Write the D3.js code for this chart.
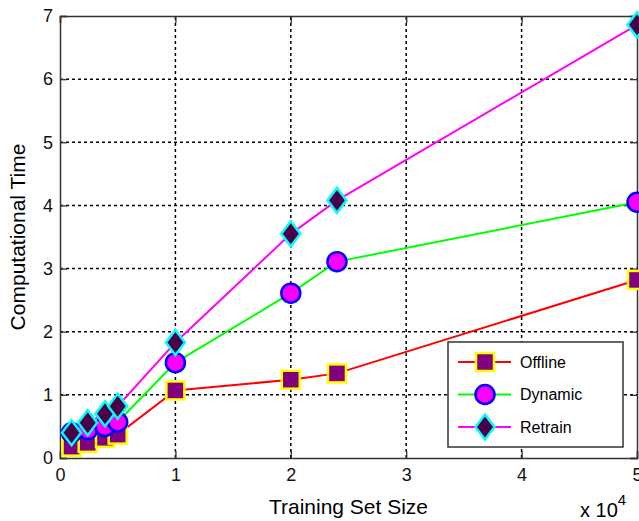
<!DOCTYPE html>
<html>
<head>
<meta charset="utf-8">
<script src="https://cdn.jsdelivr.net/npm/d3@7"></script>
<style>
  body { margin: 0; background: #fff; }
  svg { display: block; font-family: "Liberation Sans", Arial, sans-serif; }
  .axis path, .axis line { stroke: #333; }
  .axis text { font-family: "Liberation Sans", Arial, sans-serif; font-size: 18px; fill: #111; }
</style>
</head>
<body>
<svg width="639" height="521"></svg>
<script>
const width = 639;
const height = 521;
const margin = { top: 16, right: 2, bottom: 63, left: 60 };

// Data (training set size, time)
const sizes = [1000, 2400, 3900, 5000, 10000, 20000, 24000, 50000];
const offline = [0.18, 0.24, 0.32, 0.37, 1.07, 1.24, 1.34, 2.82];
const dynamic = [0.40, 0.45, 0.50, 0.57, 1.51, 2.61, 3.11, 4.05];
const retrain = [0.40, 0.56, 0.70, 0.82, 1.83, 3.55, 4.08, 6.86];
const seriesNames = ['Offline', 'Dynamic', 'Retrain'];
const xTicks = [0, 1, 2, 3, 4, 5];
const yTicks = [0, 1, 2, 3, 4, 5, 6, 7];

const series = [
    { name: seriesNames[0], values: offline, line: '#ff0000', fill: '#800080', edge: '#ffff00', shape: 'square' },
    { name: seriesNames[1], values: dynamic, line: '#00ff00', fill: '#ff00ff', edge: '#0000ff', shape: 'circle' },
    { name: seriesNames[2], values: retrain, line: '#ff00ff', fill: '#4a0048', edge: '#00ffff', shape: 'diamond' }
];

const x = d3.scaleLinear().domain([0, 5]).range([margin.left, width - margin.right]);
const y = d3.scaleLinear().domain([0, 7]).range([height - margin.bottom, margin.top]);

const svg = d3.select('svg');

// Grid lines (dashed)
svg.append('g')
    .selectAll('line')
    .data(xTicks.slice(1, -1))
    .enter().append('line')
    .attr('x1', d => x(d)).attr('x2', d => x(d))
    .attr('y1', y(0)).attr('y2', y(7))
    .attr('stroke', '#000').attr('stroke-width', 1.5).attr('stroke-dasharray', '3,3');

svg.append('g')
    .selectAll('line')
    .data(yTicks.slice(1, -1))
    .enter().append('line')
    .attr('x1', x(0)).attr('x2', x(5))
    .attr('y1', d => y(d)).attr('y2', d => y(d))
    .attr('stroke', '#000').attr('stroke-width', 1.5).attr('stroke-dasharray', '3,3');

// Axes, MATLAB style with ticks inside on all four sides
svg.append('g')
    .attr('class', 'axis')
    .attr('transform', `translate(0, ${y(0)})`)
    .call(d3.axisBottom(x).tickValues(xTicks).tickSize(-7).tickPadding(10).tickFormat(d3.format('d')));

svg.append('g')
    .attr('class', 'axis')
    .attr('transform', `translate(${x(0)}, 0)`)
    .call(d3.axisLeft(y).tickValues(yTicks).tickSize(-7).tickPadding(7).tickFormat(d3.format('d')));

svg.append('g')
    .attr('class', 'axis')
    .attr('transform', `translate(0, ${y(7)})`)
    .call(d3.axisTop(x).tickValues(xTicks).tickSize(-7).tickFormat(''));

svg.append('g')
    .attr('class', 'axis')
    .attr('transform', `translate(${x(5)}, 0)`)
    .call(d3.axisRight(y).tickValues(yTicks).tickSize(-7).tickFormat(''));

svg.selectAll('.axis path').attr('stroke-width', 1.5);
svg.selectAll('.axis line').attr('stroke-width', 1.3);

// Marker drawing helper
function drawMarker(g, shape, fill, edge) {
    if (shape === 'square') {
        g.append('rect')
            .attr('x', -9).attr('y', -9).attr('width', 18).attr('height', 18)
            .attr('fill', fill).attr('stroke', edge).attr('stroke-width', 2.5);
    } else if (shape === 'circle') {
        g.append('circle')
            .attr('r', 9.5)
            .attr('fill', fill).attr('stroke', edge).attr('stroke-width', 2.5);
    } else {
        g.append('path')
            .attr('d', 'M0,-12.5L9.5,0L0,12.5L-9.5,0Z')
            .attr('fill', fill).attr('stroke', edge).attr('stroke-width', 2.5);
    }
}

const line = d3.line()
    .x(d => x(d[0] / 10000))
    .y(d => y(d[1]));

series.forEach(s => {
    const pts = sizes.map((v, i) => [v, s.values[i]]);
    svg.append('path')
        .datum(pts)
        .attr('d', line)
        .attr('fill', 'none')
        .attr('stroke', s.line)
        .attr('stroke-width', 2);

    svg.append('g')
        .selectAll('g')
        .data(pts)
        .enter().append('g')
        .attr('transform', d => `translate(${x(d[0] / 10000)}, ${y(d[1])})`)
        .each(function () { drawMarker(d3.select(this), s.shape, s.fill, s.edge); });
});

// Legend
const legend = svg.append('g').attr('transform', 'translate(448, 342)');
legend.append('rect')
    .attr('width', 175).attr('height', 105)
    .attr('fill', '#fff').attr('stroke', '#333').attr('stroke-width', 1.5);

series.forEach((s, i) => {
    const row = legend.append('g').attr('transform', `translate(0, ${20 + i * 32.5})`);
    row.append('line')
        .attr('x1', 10).attr('x2', 63)
        .attr('stroke', s.line).attr('stroke-width', 2);
    drawMarker(row.append('g').attr('transform', 'translate(37, 0)'), s.shape, s.fill, s.edge);
    row.append('text')
        .attr('x', 72).attr('dy', '0.35em')
        .style('font-size', '16px')
        .text(s.name);
});

// Axis titles
svg.append('text')
    .attr('x', (x(0) + x(5)) / 2)
    .attr('y', 514)
    .attr('text-anchor', 'middle')
    .style('font-size', '21px')
    .text('Training Set Size');

svg.append('text')
    .attr('transform', `translate(25, ${(y(0) + y(7)) / 2}) rotate(-90)`)
    .attr('text-anchor', 'middle')
    .style('font-size', '21px')
    .text('Computational Time');

// Exponent label
const expo = svg.append('text')
    .attr('x', 580)
    .attr('y', 517)
    .style('font-size', '20px');
expo.append('tspan').text('x 10');
expo.append('tspan').attr('dy', -12).style('font-size', '15px').text('4');
</script>
</body>
</html>
